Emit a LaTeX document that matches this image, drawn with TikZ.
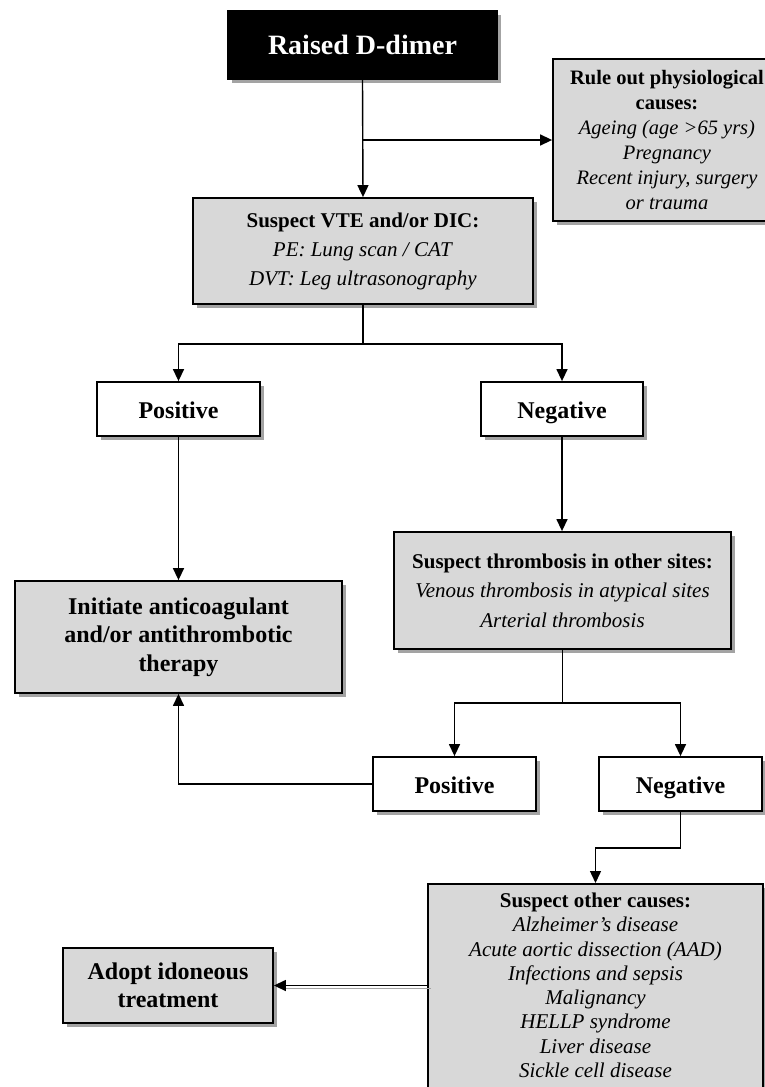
\documentclass[tikz,border=0pt]{standalone}
\usepackage{fontspec}
\setmainfont{Liberation Serif}
\usetikzlibrary{arrows.meta,shadows,calc}
\definecolor{boxfill}{HTML}{D8D8D8}
\definecolor{shadowgray}{HTML}{A3A3A3}
\tikzset{
  shadowed/.style={drop shadow={shadow xshift=4pt,shadow yshift=-4pt,fill=shadowgray,opacity=1}},
  greybox/.style={draw=black,line width=1.8pt,fill=boxfill,inner sep=0pt,align=center,shadowed},
  whitebox/.style={greybox,fill=white},
  blackbox/.style={greybox,fill=black,text=white},
  answer/.style={whitebox,bigtext,minimum width=163pt,minimum height=54pt,text height=19pt,text depth=1pt},
  flow/.style={line width=1.4pt,-{Triangle[length=12pt,width=11pt]}},
  link/.style={line width=1.4pt},
  bigtext/.style={font=\fontsize{24}{28.5}\selectfont\bfseries},
  listtext/.style={font=\fontsize{21}{29}\selectfont},
}
\begin{document}
\begin{tikzpicture}[x=1pt,y=-1pt]
\useasboundingbox (0,0) rectangle (765,1087);

% boxes
\node[blackbox, minimum width=269pt, minimum height=68pt,
      font=\fontsize{28}{32}\selectfont\bfseries] (dimer) at (362.5,45) {Raised D-dimer};

\node[greybox, minimum width=228pt, minimum height=162pt,
      font=\fontsize{20.5}{25}\selectfont] (ruleout) at (667,140)
  {\textbf{Rule out physiological}\\\textbf{causes:}\\\textit{Ageing (age >65 yrs)}\\\textit{Pregnancy}\\\textit{Recent injury, surgery}\\\textit{or trauma}};

\node[greybox, listtext, minimum width=340pt, minimum height=106pt] (vte) at (363,251)
  {\textbf{Suspect VTE and/or DIC:}\\\textit{PE: Lung scan / CAT}\\\textit{DVT: Leg ultrasonography}};

\node[answer] (pos1) at (178.5,409) {Positive};
\node[answer, minimum width=162pt] (neg1) at (562,409) {Negative};

\node[greybox, bigtext, minimum width=327pt, minimum height=112pt] (therapy) at (178.5,637)
  {Initiate anticoagulant\\and/or antithrombotic\\therapy};

\node[greybox, font=\fontsize{21}{29.5}\selectfont, minimum width=337pt, minimum height=117pt] (thromb) at (562.5,590.5)
  {\textbf{Suspect thrombosis in other sites:}\\\textit{Venous thrombosis in atypical sites}\\\textit{Arterial thrombosis}};

\node[answer] (pos2) at (454.5,784) {Positive};
\node[answer] (neg2) at (680.5,784) {Negative};

\node[greybox, font=\fontsize{21}{24.3}\selectfont, minimum width=335pt, minimum height=227pt, anchor=north] (other) at (595.5,883)
  {\textbf{Suspect other causes:}\\\textit{Alzheimer’s disease}\\\textit{Acute aortic dissection (AAD)}\\\textit{Infections and sepsis}\\\textit{Malignancy}\\\textit{HELLP syndrome}\\\textit{Liver disease}\\\textit{Sickle cell disease}\\[0pt]\mbox{}};

\node[greybox, bigtext, minimum width=210pt, minimum height=75pt] (adopt) at (168,985.5)
  {Adopt idoneous\\treatment};

% connectors
\draw[flow] (dimer.south) -- (vte.north);
\draw[flow] (dimer.south |- ruleout.west) -- (ruleout.west);

\draw[link] (vte.south) -- ++(0,39) coordinate (split1);
\draw[flow] (split1) -| (pos1.north);
\draw[flow] (split1) -| (neg1.north);

\draw[flow] (pos1.south) -- (therapy.north);
\draw[flow] (neg1.south) -- (neg1.south |- thromb.north);

\draw[link] (thromb.south) -- ++(0,53) coordinate (split2);
\draw[flow] (split2) -| (pos2.north);
\draw[flow] (split2) -| (neg2.north);

\draw[flow] (pos2.west) -| (therapy.south);

\draw[link] (neg2.south) -- ++(0,36) coordinate (bend);
\draw[flow] (bend) -| (other.north);

\draw[shadowgray, line width=1.4pt] ([shift={(4pt,-3pt)}]adopt.east -| other.west) -- ([shift={(8pt,-3pt)}]adopt.east);
\draw[flow] (adopt.east -| other.west) -- (adopt.east);
\end{tikzpicture}
\end{document}
